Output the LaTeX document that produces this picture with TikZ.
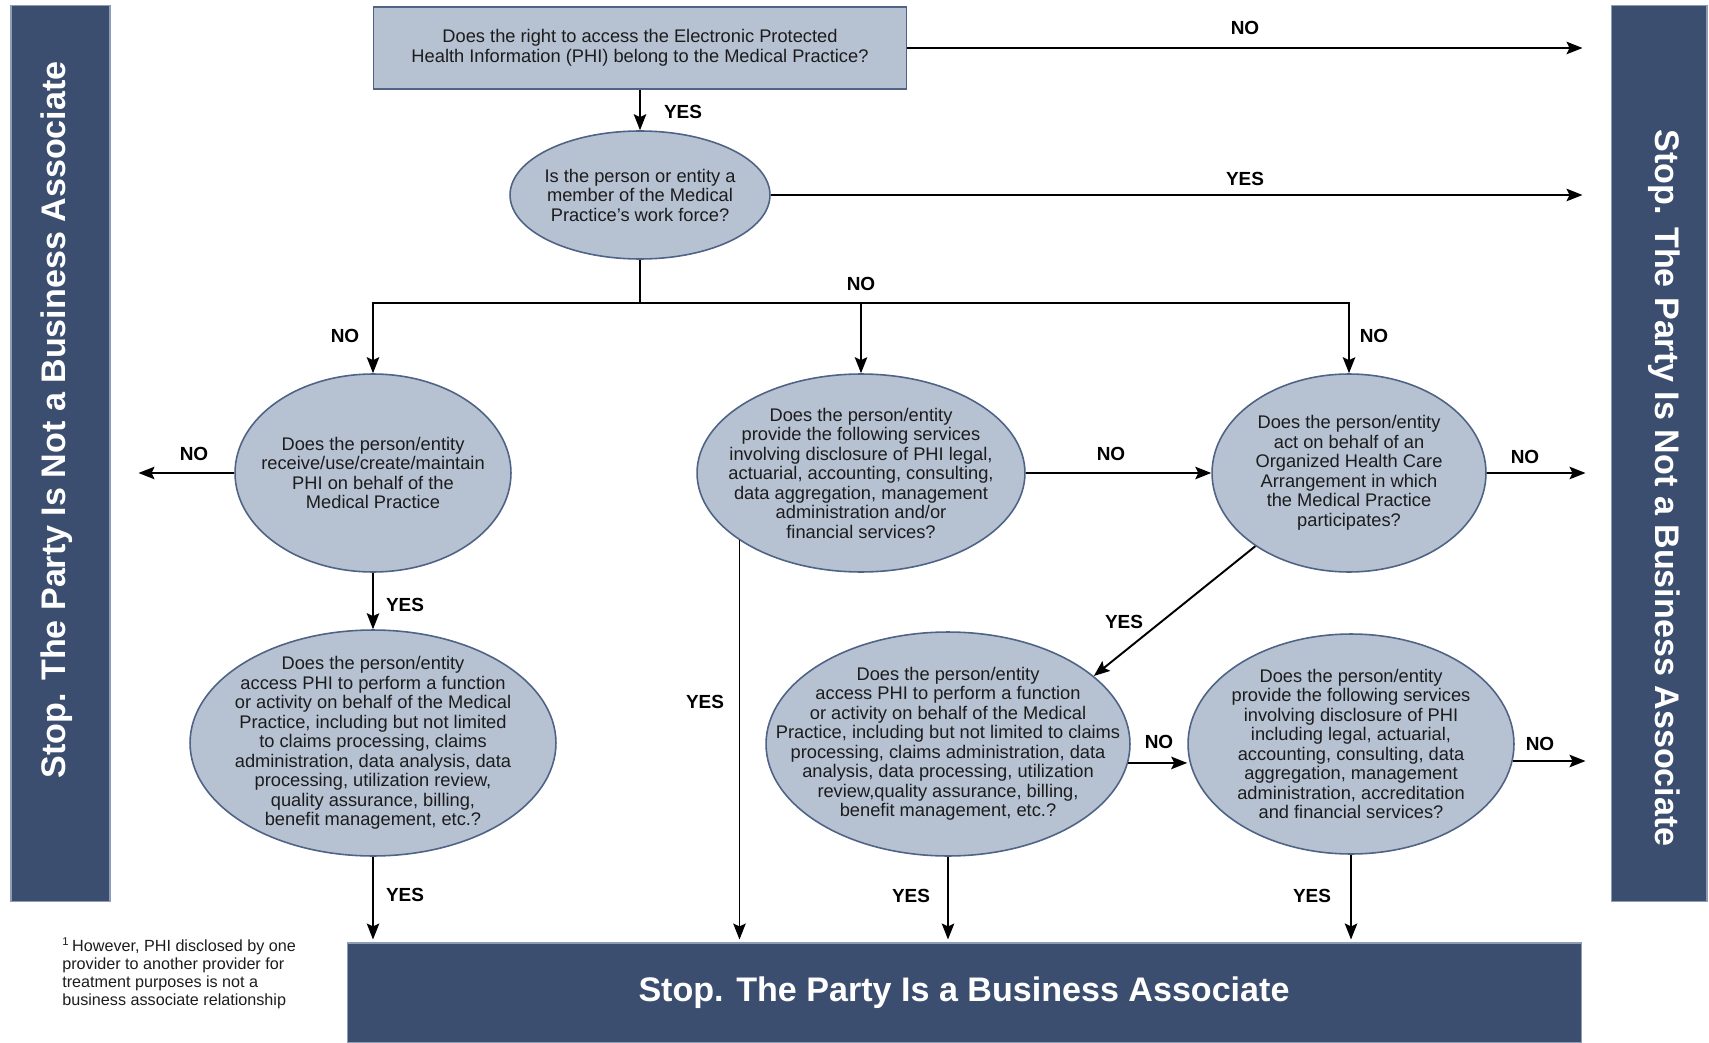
\documentclass[tikz,border=0pt]{standalone}
\usepackage{fontspec}
\setmainfont{Liberation Sans}
\usetikzlibrary{arrows.meta,shapes.geometric}
\definecolor{qfill}{HTML}{B6C1D2}
\definecolor{qline}{HTML}{4E6385}
\definecolor{barfill}{HTML}{3B4E6F}
\definecolor{baredge}{HTML}{8E9DB5}
\definecolor{qtext}{HTML}{1C1C1C}
\begin{document}
\begin{tikzpicture}[x=0.02cm, y=-0.02cm,
    question/.style={draw=qline, line width=0.9pt, fill=qfill, ellipse, inner sep=-1.5cm, align=center, text=qtext, font=\fontsize{10.4}{11.1}\selectfont},
    topq/.style={draw=qline, line width=1pt, fill=qfill, rectangle, minimum width=10.66cm, minimum height=1.64cm, align=center, text=qtext, font=\fontsize{10.4}{11.1}\selectfont},
    stopbar/.style={draw=baredge, line width=0.6pt, fill=barfill, rectangle, inner sep=0pt},
    stoptxt/.style={text=white, inner sep=0pt, font=\bfseries\fontsize{19.4}{22}\selectfont},
    lbl/.style={inner sep=0pt, font=\bfseries\fontsize{10.8}{12}\selectfont},
    foot/.style={align=left, inner sep=0pt, text=qtext, font=\fontsize{9.2}{10.1}\selectfont},
    arr/.style={line width=1.1pt, -{Stealth[length=0.32cm, width=0.25cm, inset=0.06cm]}},
    ln/.style={line width=1.1pt}
]
\useasboundingbox (0,0) rectangle (1709,1043);

% Stop bars
\node[stopbar, minimum width=1.98cm, minimum height=17.94cm] (stopL) at (60.5,453.5) {};
\node[stoptxt, rotate=90] (stopLtxt) at (57,420) {Stop. The Party Is Not a Business Associate};
\node[stopbar, minimum width=1.92cm, minimum height=17.94cm] (stopR) at (1659,453.5) {};
\node[stoptxt, rotate=-90] (stopRtxt) at (1664,488) {Stop. The Party Is Not a Business Associate};
\node[stopbar, minimum width=24.7cm, minimum height=2cm] (stopB) at (964.5,993) {};
\node[stoptxt] (stopBtxt) at (964,993) {Stop. The Party Is a Business Associate};

% Footnote
\node[foot, anchor=north west] (fn) at (62,937) {\textsuperscript{1}\,However, PHI disclosed by one\\provider to another provider for\\treatment purposes is not a\\business associate relationship};

% Questions
\node[topq] (q1) at (640,48) {Does the right to access the Electronic Protected\\Health Information (PHI) belong to the Medical Practice?};
\node[question, minimum width=5.2cm, minimum height=2.56cm] (q2) at (640,195) {Is the person or entity a\\member of the Medical\\Practice's work force?};

\node[question, minimum width=5.52cm, minimum height=3.96cm] (q3) at (373,473) {Does the person/entity\\receive/use/create/maintain\\PHI on behalf of the\\Medical Practice};
\node[question, minimum width=6.56cm, minimum height=3.96cm] (q4) at (861,473) {Does the person/entity\\provide the following services\\involving disclosure of PHI legal,\\actuarial, accounting, consulting,\\data aggregation, management\\administration and/or\\financial services?};
\node[question, minimum width=5.48cm, minimum height=3.96cm] (q5) at (1349,473) {Does the person/entity\\act on behalf of an\\Organized Health Care\\Arrangement in which\\the Medical Practice\\participates?};

\node[question, minimum width=7.32cm, minimum height=4.52cm] (q6) at (373,743) {Does the person/entity\\access PHI to perform a function\\or activity on behalf of the Medical\\Practice, including but not limited\\to claims processing, claims\\administration, data analysis, data\\processing, utilization review,\\quality assurance, billing,\\benefit management, etc.?};
\node[question, minimum width=7.28cm, minimum height=4.48cm] (q7) at (948,744) {Does the person/entity\\access PHI to perform a function\\or activity on behalf of the Medical\\Practice, including but not limited to claims\\processing, claims administration, data\\analysis, data processing, utilization\\review,quality assurance, billing,\\benefit management, etc.?};
\node[question, minimum width=6.52cm, minimum height=4.4cm] (q8) at (1351,744) {Does the person/entity\\provide the following services\\involving disclosure of PHI\\including legal, actuarial,\\accounting, consulting, data\\aggregation, management\\administration, accreditation\\and financial services?};

% Connectors
\coordinate (fork) at (640,303);
\draw[arr, shorten >=0.56cm] (q1.east) -- (q1.east -| stopR.west);
\draw[arr] (q1.south) -- (q2.north);
\draw[arr, shorten >=0.56cm] (q2.east) -- (q2.east -| stopR.west);
\draw[ln] (q2.south) -- (fork);
\draw[arr] (fork) -| (q3.north);
\draw[arr] (fork) -| (q4.north);
\draw[arr] (fork) -| (q5.north);

\draw[arr, shorten >=0.56cm] (q3.west) -- (q3.west -| stopL.east);
\draw[arr] (q3.south) -- (q6.north);
\draw[arr, shorten >=0.06cm] (q6.south) -- (q6.south |- stopB.north);

\draw[arr] (q4.east) -- (q5.west);
\draw[arr, shorten >=0.06cm] (q4.209) -- (q4.209 |- stopB.north);

\draw[arr, shorten >=0.5cm] (q5.east) -- (q5.east -| stopR.west);
\draw[arr] (q5.218) -- (q7.25);

\draw[arr] (q7.-6) -- (q7.-6 -| q8.west);
\draw[arr, shorten >=0.06cm] (q7.south) -- (q7.south |- stopB.north);
\draw[arr, shorten >=0.5cm] (q8.-6.4) -- (q8.-6.4 -| stopR.west);
\draw[arr, shorten >=0.06cm] (q8.south) -- (q8.south |- stopB.north);

% Labels
\node[lbl] (l1) at (1245,28) {NO};
\node[lbl] (l2) at (683,112) {YES};
\node[lbl] (l3) at (1245,179) {YES};
\node[lbl] (l4) at (861,284) {NO};
\node[lbl] (l5) at (345,336) {NO};
\node[lbl] (l6) at (1374,336) {NO};
\node[lbl] (l7) at (194,454) {NO};
\node[lbl] (l8) at (1111,454) {NO};
\node[lbl] (l9) at (1525,457) {NO};
\node[lbl] (l10) at (405,605) {YES};
\node[lbl] (l11) at (1124,622) {YES};
\node[lbl] (l12) at (705,702) {YES};
\node[lbl] (l13) at (1159,742) {NO};
\node[lbl] (l14) at (1540,744) {NO};
\node[lbl] (l15) at (405,895) {YES};
\node[lbl] (l16) at (911,896) {YES};
\node[lbl] (l17) at (1312,896) {YES};
\end{tikzpicture}
\end{document}
